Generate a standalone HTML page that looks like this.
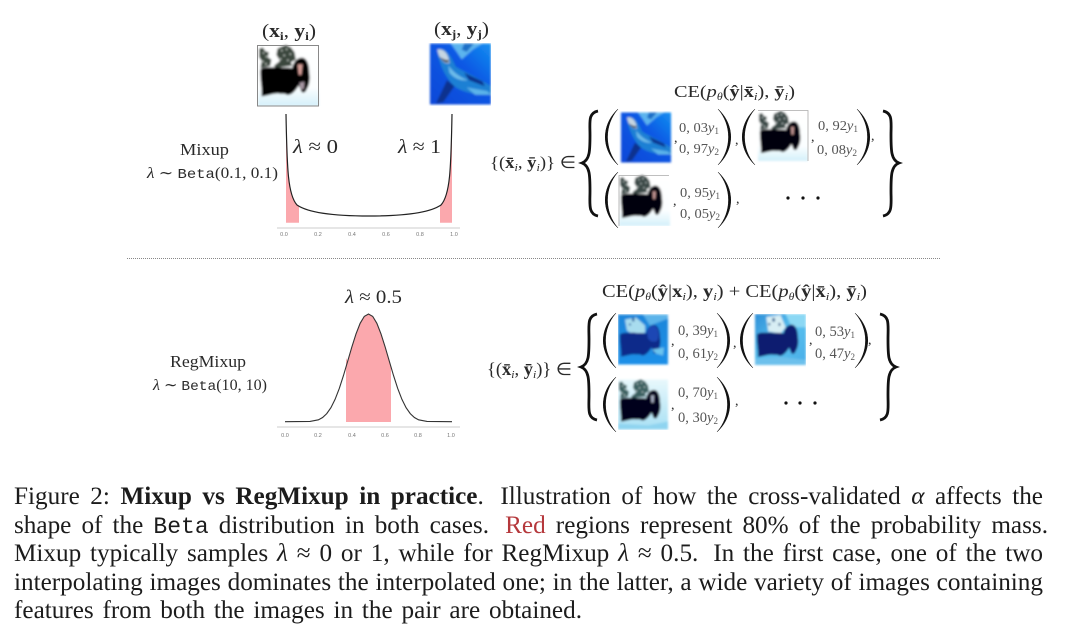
<!DOCTYPE html>
<html><head><meta charset="utf-8">
<style>
html,body{margin:0;padding:0;background:#fff;width:1080px;height:633px;overflow:hidden}
svg{position:absolute;left:0;top:0;filter:blur(.35px)}
text{font-family:"Liberation Serif",serif;fill:#2a2a2a}
.m{font-family:"Liberation Mono",monospace}
.b{font-weight:bold}
.i{font-style:italic}
.t{font-family:"Liberation Sans",sans-serif;font-size:5.5px;fill:#777;text-anchor:middle}
.lb text{fill:#555}
.l{position:absolute;left:14px;width:1029px;height:29px;font:25.2px/29px "Liberation Serif",serif;color:#1c1c1c;text-align:justify;text-align-last:justify;filter:blur(.3px)}
.l tt{font:23px "Liberation Mono",monospace}
.l i{font-style:italic}
.g{margin-left:6px}
.p{fill:#111;stroke:#111;stroke-width:.5}
.d{fill:none;stroke:#111;stroke-width:2.8}
</style></head><body>
<svg width="1080" height="633" viewBox="0 0 1080 633" xmlns="http://www.w3.org/2000/svg">
<defs>
<linearGradient id="sea" x1="0" y1="1" x2="1" y2="0"><stop offset="0" stop-color="#0a48d8"/><stop offset=".6" stop-color="#0a58e4"/><stop offset="1" stop-color="#1590f0"/></linearGradient>
<linearGradient id="mixbg" x1="0" y1="0" x2="0" y2="1"><stop offset="0" stop-color="#1a86da"/><stop offset="1" stop-color="#1f90e8"/></linearGradient>
<linearGradient id="mixbg2" x1="0" y1="0" x2="1" y2="1"><stop offset="0" stop-color="#2f90d8"/><stop offset=".5" stop-color="#58c0ee"/><stop offset="1" stop-color="#4aaee8"/></linearGradient>
<linearGradient id="snow" x1="0" y1="0" x2="0" y2="1"><stop offset="0" stop-color="#e8f8fc"/><stop offset="1" stop-color="#a8e0f4"/></linearGradient>
<linearGradient id="snowl" x1="0" y1="0" x2="0" y2="1"><stop offset="0" stop-color="#fff"/><stop offset=".7" stop-color="#fbfeff"/><stop offset="1" stop-color="#d4f0fa"/></linearGradient>
<filter id="bl"><feGaussianBlur stdDeviation="1"/></filter>

<path id="body" d="M4,40 C10,34 20,38 30,36 C40,38 50,36 56,38 C58,26 66,20 73,21 C80,22 84,32 84,45 C86,56 84,66 80,72 C78,78 74,80 71,76 L67,66 C62,74 56,82 48,82 C44,79 40,80 36,80 C26,78 14,84 6,84 C7,70 3,55 4,40Z"/>
<path id="tree" d="M2,6 L8,4 L12,10 L18,12 L16,20 L22,24 L20,34 L4,38 L6,26 L2,20Z M32,6 L40,2 L46,0 L54,4 L60,12 L62,24 L54,28 L56,34 L40,36 L30,38 L26,34 L36,26 L30,16Z"/>
<path id="spk" d="M8,12h2v2h-2zM13,18h2v2h-2zM7,26h2v2h-2zM38,8h2v2h-2zM46,6h2v2h-2zM42,16h2v2h-2zM52,14h2v2h-2zM36,22h2v2h-2zM48,24h2v2h-2zM12,30h2v2h-2z"/>

<symbol id="dog" viewBox="0 0 100 100">
<rect width="100" height="100" fill="url(#snowl)"/>
<use href="#tree" fill="#3a463c"/>
<use href="#spk" fill="#eef4ee"/>
<use href="#body" fill="#040306"/>
<path d="M65,32 h8 l-2,17 h-4z" fill="#d8a09a"/>
<path d="M68,62 l8,-2 l-1,12 l-5,1z" fill="#a898a4"/>
</symbol>

<symbol id="dogl" viewBox="0 0 100 100">
<rect width="100" height="100" fill="url(#snowl)"/>
<use href="#tree" fill="#3a4a46"/>
<use href="#spk" fill="#eef8f8"/>
<use href="#body" fill="#040308"/>
<path d="M66,32 h6 l-1,15 h-4z" fill="#c89a98"/>
</symbol>

<symbol id="dogc" viewBox="0 0 100 100">
<rect width="100" height="100" fill="url(#snow)"/>
<use href="#tree" fill="#3a6060"/>
<use href="#spk" fill="#e6f6f8"/>
<use href="#body" fill="#05031a"/>
<path d="M66,32 h6 l-1,14 h-4z" fill="#b0b8cc"/>
<path d="M0,88 L60,92 L100,84 L100,100 L0,100Z" fill="#8fd4f0"/>
</symbol>

<symbol id="mix1" viewBox="0 0 100 100">
<rect width="100" height="100" fill="url(#mixbg)"/>
<path d="M50,0 L100,0 L100,8 L64,22Z" fill="#5cb4ea"/>
<path d="M14,10 L36,6 L54,22 L54,36 L34,42 L18,32Z" fill="#a8dcee"/>
<path d="M28,6h5v8h-5zM22,18h4v4h-4z" fill="#2a6aa8"/>
<use href="#body" fill="#0c2a8a"/>
<path d="M58,36 C60,26 66,22 73,23 C80,26 83,36 80,50 C76,56 66,56 60,48Z" fill="#1a46b4"/>
<path d="M68,70 L92,66 L90,82 L76,78Z" fill="#6cc4ee"/>
</symbol>
<symbol id="mix2" viewBox="0 0 100 100">
<rect width="100" height="100" fill="url(#mixbg2)"/>
<path d="M60,0 L100,0 L100,26 L72,26Z" fill="#8cd8f4"/>
<path d="M22,6 L50,2 L60,26 L50,38 L26,34Z" fill="#d8eef4"/>
<path d="M34,8h5v7h-5zM26,18h4v4h-4zM46,18h4v5h-4z" fill="#1c5a8c"/>
<use href="#body" fill="#071a70"/>
<path d="M0,88 L50,84 L100,90 L100,100 L0,100Z" fill="#6cc0ec"/>
</symbol>

<symbol id="shark" viewBox="0 0 100 100">
<rect width="100" height="100" fill="url(#sea)"/>
<path d="M34,0 L86,0 L70,10 L52,26 L44,14Z" fill="#5cb4ee"/>
<path d="M56,0 L72,0 L60,14 L52,10Z" fill="#1f70c8"/>
<path d="M12,10 C24,4 34,18 42,38 C54,46 72,52 100,70 L100,84 L78,84 C60,80 44,76 36,66 C26,54 14,34 12,10Z" fill="#1f80d4"/>
<path d="M12,10 C22,8 30,16 32,32 C24,34 16,28 12,10Z" fill="#c6d6e2"/>
<path d="M16,22 C22,26 26,28 31,27 L30,31 C24,32 20,28 16,22Z" fill="#334"/>
<path d="M30,36 C38,46 46,54 62,60 C52,62 40,58 32,48Z" fill="#6cbcea"/>
<path d="M28,60 L40,70 L22,96 L10,98Z M56,48 L86,62 L90,70 L64,60Z" fill="#07308e"/>
<path d="M60,72 L94,78 L100,84 L74,84Z" fill="#5cb4ea"/>
</symbol>
<clipPath id="c1"><rect x="258" y="43" width="233" height="63"/><rect x="618" y="111" width="190" height="115"/><rect x="618" y="314" width="188" height="116"/></clipPath>
</defs>

<g clip-path="url(#c1)"><g filter="url(#bl)">
<use href="#dog" x="258" y="45" width="61" height="61"/>
<use href="#shark" x="430" y="43" width="61" height="62"/>
<use href="#shark" x="621" y="112" width="50" height="51"/>
<use href="#dogl" x="758" y="111" width="50" height="50"/>
<use href="#dogl" x="619" y="175" width="51" height="51"/>
<use href="#mix1" x="618" y="314" width="50" height="51"/>
<use href="#mix2" x="755" y="314" width="51" height="51"/>
<use href="#dogc" x="618" y="379" width="50" height="51"/>
</g></g>
<rect x="257.5" y="45.5" width="61" height="60.5" fill="none" stroke="#888" stroke-width="1"/>
<path d="M758,110.5 H808 V161 M619,226 V175.5 H669" fill="none" stroke="#aaa" stroke-width=".8"/>

<!-- Mixup plot -->
<path d="M286,122 C287,170 288,195 297,205 L299,207 L299,222.7 L286,222.7Z" fill="#fba8ad"/>
<path d="M452,122 C451,170 450,195 441,205 L440,206 L440,222.7 L452,222.7Z" fill="#fba8ad"/>
<path d="M286,114 C287,170 288,195 297,205 C310,214 340,216 369,216 C398,216 428,214 441,205 C450,195 451,170 452,114" fill="none" stroke="#222" stroke-width="1.2"/>
<line x1="277" y1="228" x2="460" y2="228" stroke="#bbb" stroke-width=".8"/>
<text class="t" x="284" y="236">0.0</text><text class="t" x="318" y="236">0.2</text><text class="t" x="352" y="236">0.4</text><text class="t" x="386" y="236">0.6</text><text class="t" x="420" y="236">0.8</text><text class="t" x="454" y="236">1.0</text>

<!-- RegMixup plot -->
<path d="M346,422 L346,358 L347.6,361.5 L351.8,347.1 L356,333.9 L360.15,323.3 L364.3,316.4 L368.5,314 L372.7,316.4 L376.85,323.3 L381,333.9 L385.2,347.1 L389.4,361.5 L391,367 L391,422Z" fill="#fba8ad"/>
<polyline points="285,421.7 310,421.4 318.4,419.8 322.6,417.5 326.75,413.6 330.9,407.7 335.1,399.3 339.3,388.4 343.45,375.6 347.6,361.5 351.8,347.1 356,333.9 360.15,323.3 364.3,316.4 368.5,314 372.7,316.4 376.85,323.3 381,333.9 385.2,347.1 389.4,361.5 393.55,375.6 397.7,388.4 401.9,399.3 406.1,407.7 410.25,413.6 414.4,417.5 418.6,419.8 427,421.4 452,421.7" fill="none" stroke="#333" stroke-width="1.1"/>
<line x1="277" y1="427" x2="460" y2="427" stroke="#bbb" stroke-width=".8"/>
<text class="t" x="285" y="437">0.0</text><text class="t" x="318" y="437">0.2</text><text class="t" x="352" y="437">0.4</text><text class="t" x="385" y="437">0.6</text><text class="t" x="418" y="437">0.8</text><text class="t" x="451" y="437">1.0</text>

<line x1="127" y1="258.5" x2="941" y2="258.5" stroke="#888" stroke-width="1" stroke-dasharray="1 1"/>

<!-- left labels -->
<text x="262" y="37" font-size="19" textLength="54" lengthAdjust="spacingAndGlyphs">(<tspan class="b">x</tspan><tspan class="b" font-size="12" dy="3">i</tspan><tspan dy="-3">, </tspan><tspan class="b">y</tspan><tspan class="b" font-size="12" dy="3">i</tspan><tspan dy="-3">)</tspan></text>
<text x="434" y="35" font-size="19" textLength="55" lengthAdjust="spacingAndGlyphs">(<tspan class="b">x</tspan><tspan class="b" font-size="12" dy="3">j</tspan><tspan dy="-3">, </tspan><tspan class="b">y</tspan><tspan class="b" font-size="12" dy="3">j</tspan><tspan dy="-3">)</tspan></text>
<text x="180" y="155" font-size="17" textLength="49" lengthAdjust="spacingAndGlyphs">Mixup</text>
<text x="147" y="178" font-size="15.5" textLength="131" lengthAdjust="spacingAndGlyphs"><tspan class="i">λ</tspan> ∼ <tspan class="m" font-size="14">Beta</tspan>(0.1, 0.1)</text>
<text x="293" y="153" font-size="20" textLength="45" lengthAdjust="spacingAndGlyphs"><tspan class="i">λ</tspan> ≈ 0</text>
<text x="398" y="153" font-size="20" textLength="43" lengthAdjust="spacingAndGlyphs"><tspan class="i">λ</tspan> ≈ 1</text>
<text x="345" y="303" font-size="19" textLength="57" lengthAdjust="spacingAndGlyphs"><tspan class="i">λ</tspan> ≈ 0.5</text>
<text x="170" y="367" font-size="17" textLength="76" lengthAdjust="spacingAndGlyphs">RegMixup</text>
<text x="153" y="390" font-size="15.5" textLength="114" lengthAdjust="spacingAndGlyphs"><tspan class="i">λ</tspan> ∼ <tspan class="m" font-size="14">Beta</tspan>(10, 10)</text>

<!-- top formula -->
<text x="674" y="97" font-size="17" textLength="121" lengthAdjust="spacingAndGlyphs">CE(<tspan class="i">p</tspan><tspan class="i" font-size="10" dy="3">θ</tspan><tspan dy="-3">(</tspan><tspan class="b">ŷ</tspan>|<tspan class="b">x̄</tspan><tspan class="i" font-size="11" dy="3">i</tspan><tspan dy="-3">), </tspan><tspan class="b">ȳ</tspan><tspan class="i" font-size="11" dy="3">i</tspan><tspan dy="-3">)</tspan></text>
<text x="490" y="168" font-size="17" textLength="86" lengthAdjust="spacingAndGlyphs">{(<tspan class="b">x̄</tspan><tspan class="i" font-size="11" dy="3">i</tspan><tspan dy="-3">, </tspan><tspan class="b">ȳ</tspan><tspan class="i" font-size="11" dy="3">i</tspan><tspan dy="-3">)} ∈</tspan></text>

<path class="d" d="M598,111 C588,113 590,122 590,135 C590,150 590,160 582,163 C590,166 590,176 590,191 C590,204 588,214 598,216"/>
<path class="d" d="M883,111 C893,113 891,122 891,135 C891,150 891,160 899,163 C891,166 891,176 891,191 C891,204 893,214 883,216"/>
<path class="p" d="M618,109 C601,125 601,149 618,165 C604,149 604,125 618,109Z"/>
<path class="p" d="M718,109 C735,125 735,149 718,165 C732,149 732,125 718,109Z"/>
<path class="p" d="M755,109 C738,125 738,149 755,165 C741,149 741,125 755,109Z"/>
<path class="p" d="M857,109 C874,125 874,149 857,165 C871,149 871,125 857,109Z"/>
<path class="p" d="M618,172 C601,188 601,212 618,228 C604,212 604,188 618,172Z"/>
<path class="p" d="M718,172 C735,188 735,212 718,228 C732,212 732,188 718,172Z"/>

<g class="lb" font-size="14">
<text x="679" y="132" textLength="40" lengthAdjust="spacingAndGlyphs">0, 03<tspan class="i">y</tspan><tspan font-size="9" dy="2">1</tspan></text>
<text x="679" y="153" textLength="40" lengthAdjust="spacingAndGlyphs">0, 97<tspan class="i">y</tspan><tspan font-size="9" dy="2">2</tspan></text>
<text x="818" y="130" textLength="40" lengthAdjust="spacingAndGlyphs">0, 92<tspan class="i">y</tspan><tspan font-size="9" dy="2">1</tspan></text>
<text x="817" y="154" textLength="40" lengthAdjust="spacingAndGlyphs">0, 08<tspan class="i">y</tspan><tspan font-size="9" dy="2">2</tspan></text>
<text x="680" y="197" textLength="40" lengthAdjust="spacingAndGlyphs">0, 95<tspan class="i">y</tspan><tspan font-size="9" dy="2">1</tspan></text>
<text x="680" y="218" textLength="40" lengthAdjust="spacingAndGlyphs">0, 05<tspan class="i">y</tspan><tspan font-size="9" dy="2">2</tspan></text>
</g>
<g font-size="14">
<text x="674" y="142">,</text><text x="735" y="144">,</text><text x="811" y="141">,</text><text x="871" y="140">,</text>
<text x="673" y="205">,</text><text x="736" y="203">,</text>
</g>
<circle cx="788" cy="198" r="1.6" fill="#111"/><circle cx="803" cy="198" r="1.6" fill="#111"/><circle cx="818" cy="198" r="1.6" fill="#111"/>

<!-- bottom formula -->
<text x="602" y="297" font-size="17.5" textLength="265" lengthAdjust="spacingAndGlyphs">CE(<tspan class="i">p</tspan><tspan class="i" font-size="10" dy="3">θ</tspan><tspan dy="-3">(</tspan><tspan class="b">ŷ</tspan>|<tspan class="b">x</tspan><tspan class="i" font-size="11" dy="3">i</tspan><tspan dy="-3">), </tspan><tspan class="b">y</tspan><tspan class="i" font-size="11" dy="3">i</tspan><tspan dy="-3">) + CE(</tspan><tspan class="i">p</tspan><tspan class="i" font-size="10" dy="3">θ</tspan><tspan dy="-3">(</tspan><tspan class="b">ŷ</tspan>|<tspan class="b">x̄</tspan><tspan class="i" font-size="11" dy="3">i</tspan><tspan dy="-3">), </tspan><tspan class="b">ȳ</tspan><tspan class="i" font-size="11" dy="3">i</tspan><tspan dy="-3">)</tspan></text>
<text x="487" y="375" font-size="17.5" textLength="85" lengthAdjust="spacingAndGlyphs">{(<tspan class="b">x̄</tspan><tspan class="i" font-size="11" dy="3">i</tspan><tspan dy="-3">, </tspan><tspan class="b">ȳ</tspan><tspan class="i" font-size="11" dy="3">i</tspan><tspan dy="-3">)} ∈</tspan></text>

<path class="d" d="M597,314 C587,316 589,325 589,339 C589,355 589,364 581,367 C589,370 589,380 589,395 C589,409 587,418 597,420"/>
<path class="d" d="M880,314 C890,316 888,325 888,339 C888,355 888,364 896,367 C888,370 888,380 888,395 C888,409 890,418 880,420"/>
<path class="p" d="M616,313 C599,329 599,352 616,368 C602,352 602,329 616,313Z"/>
<path class="p" d="M717,313 C734,329 734,352 717,368 C731,352 731,329 717,313Z"/>
<path class="p" d="M753,313 C736,329 736,352 753,368 C739,352 739,329 753,313Z"/>
<path class="p" d="M855,313 C872,329 872,352 855,368 C869,352 869,329 855,313Z"/>
<path class="p" d="M616,377 C599,393 599,416 616,432 C602,416 602,393 616,377Z"/>
<path class="p" d="M717,377 C734,393 734,416 717,432 C731,416 731,393 717,377Z"/>

<g class="lb" font-size="14.5">
<text x="678" y="335" textLength="40" lengthAdjust="spacingAndGlyphs">0, 39<tspan class="i">y</tspan><tspan font-size="9" dy="2">1</tspan></text>
<text x="678" y="358" textLength="40" lengthAdjust="spacingAndGlyphs">0, 61<tspan class="i">y</tspan><tspan font-size="9" dy="2">2</tspan></text>
<text x="815" y="336" textLength="40" lengthAdjust="spacingAndGlyphs">0, 53<tspan class="i">y</tspan><tspan font-size="9" dy="2">1</tspan></text>
<text x="815" y="358" textLength="40" lengthAdjust="spacingAndGlyphs">0, 47<tspan class="i">y</tspan><tspan font-size="9" dy="2">2</tspan></text>
<text x="678" y="397" textLength="40" lengthAdjust="spacingAndGlyphs">0, 70<tspan class="i">y</tspan><tspan font-size="9" dy="2">1</tspan></text>
<text x="678" y="422" textLength="40" lengthAdjust="spacingAndGlyphs">0, 30<tspan class="i">y</tspan><tspan font-size="9" dy="2">2</tspan></text>
</g>
<g font-size="14">
<text x="671" y="345">,</text><text x="733" y="347">,</text><text x="809" y="344">,</text><text x="868" y="344">,</text>
<text x="671" y="409">,</text><text x="735" y="405">,</text>
</g>
<circle cx="786" cy="403" r="1.6" fill="#111"/><circle cx="800" cy="403" r="1.6" fill="#111"/><circle cx="815" cy="403" r="1.6" fill="#111"/>
</svg>

<div class="l" style="top:482px">Figure 2: <b>Mixup vs RegMixup in practice</b>. <span class="g">Illustration</span> of how the cross-validated <i>α</i> affects the</div>
<div class="l" style="top:511px;width:1034px">shape of the <tt>Beta</tt> distribution in both cases. <span class="g" style="color:#b5383c">Red</span> regions represent 80% of the probability mass.</div>
<div class="l" style="top:539px">Mixup typically samples <i>λ</i> ≈ 0 or 1, while for RegMixup <i>λ</i> ≈ 0.5. <span class="g">In</span> the first case, one of the two</div>
<div class="l" style="top:568px">interpolating images dominates the interpolated one; in the latter, a wide variety of images containing</div>
<div class="l" style="top:596px;width:568px">features from both the images in the pair are obtained.</div>
</body></html>
